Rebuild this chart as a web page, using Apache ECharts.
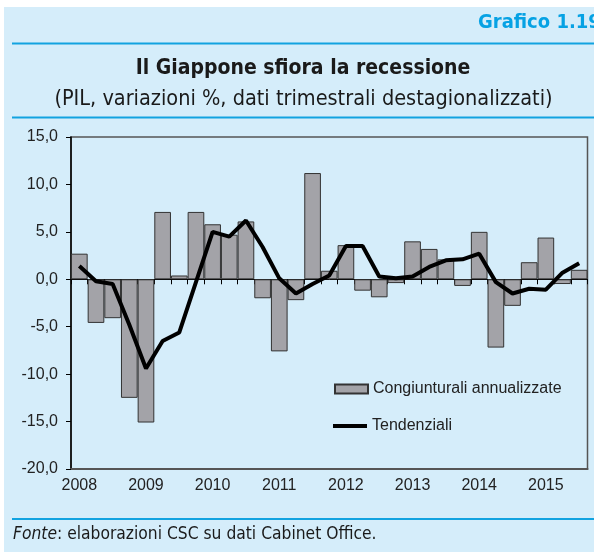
<!DOCTYPE html>
<html>
<head>
<meta charset="utf-8">
<script src="https://cdn.jsdelivr.net/npm/echarts@6/dist/echarts.min.js"></script>
<style>
  html, body { margin: 0; padding: 0; background: #fff; }
  #chart { width: 594px; height: 552px; }
</style>
</head>
<body>
<div id="chart"></div>
<script>
// trimestri 2008 T1 - 2015 T3
var years = ['2008', '2009', '2010', '2011', '2012', '2013', '2014', '2015'];
var quarters = [];
years.forEach(function (y) {
	['T1', 'T2', 'T3', 'T4'].forEach(function (q) { quarters.push(y + ' ' + q); });
});
quarters = quarters.slice(0, 31);

// variazioni congiunturali annualizzate
var congiunturali = [
	2.7, -4.6, -4.1, -12.5,
	-15.1, 7.1, 0.4, 7.1,
	5.8, 4.7, 6.1, -2.0,
	-7.6, -2.2, 11.2, 0.9,
	3.6, -1.2, -1.9, -0.4,
	4.0, 3.2, 2.1, -0.7,
	5.0, -7.2, -2.8, 1.8,
	4.4, -0.5, 1.0
];

// variazioni tendenziali
var tendenziali = [
	1.4, -0.2, -0.5, -4.8,
	-9.4, -6.5, -5.6, -0.3,
	5.0, 4.5, 6.2, 3.4,
	0.1, -1.5, -0.5, 0.4,
	3.5, 3.5, 0.3, 0.1,
	0.3, 1.3, 2.0, 2.1,
	2.7, -0.3, -1.5, -1.0,
	-1.1, 0.7, 1.7
];

var yTicks = [-20, 15, 5];

var narrow = "'Liberation Sans Narrow', 'DejaVu Sans Condensed', sans-serif";
var plain = "'Liberation Sans', Arial, sans-serif";
var blue = '#12A3E0';

var myChart = echarts.init(document.getElementById('chart'));

var option = {
	backgroundColor: '#ffffff',
	animation: false,
	graphic: [
		{ type: 'rect', z: -10, shape: { x: 4, y: 7, width: 590, height: 545 }, style: { fill: '#D5EDFA' } },
		{ type: 'line', shape: { x1: 12, y1: 43.5, x2: 594, y2: 43.5 }, style: { stroke: blue, lineWidth: 2 } },
		{ type: 'line', shape: { x1: 12, y1: 117.5, x2: 594, y2: 117.5 }, style: { stroke: blue, lineWidth: 2 } },
		{ type: 'line', shape: { x1: 12, y1: 519, x2: 594, y2: 519 }, style: { stroke: blue, lineWidth: 2 } },
		{ type: 'text', x: 478, y: 23, style: { text: 'Grafico 1.19', font: 'bold 20px ' + narrow, fill: '#06A2E4', textVerticalAlign: 'middle' } },
		{ type: 'text', x: 303, y: 69, style: { text: 'Il Giappone sfiora la recessione', font: 'bold 21px ' + narrow, fill: '#1a1a1a', textAlign: 'center', textVerticalAlign: 'middle' } },
		{ type: 'text', x: 303.5, y: 99, style: { text: '(PIL, variazioni %, dati trimestrali destagionalizzati)', font: '21.5px ' + narrow, fill: '#1a1a1a', textAlign: 'center', textVerticalAlign: 'middle' } },
		{
			type: 'text', x: 13, y: 535,
			style: {
				text: '{i|Fonte}{n|: elaborazioni CSC su dati Cabinet Office.}',
				textVerticalAlign: 'middle',
				rich: {
					i: { font: 'italic 17.3px ' + narrow, fill: '#1a1a1a' },
					n: { font: '17.3px ' + narrow, fill: '#1a1a1a' }
				}
			}
		}
	],
	grid: {
		left: 71, top: 137, right: 6.5, bottom: 83,
		show: true, borderColor: '#555', borderWidth: 1.5, backgroundColor: 'transparent'
	},
	legend: [
		{
			left: 329, top: 376,
			itemWidth: 33, itemHeight: 9, icon: 'rect',
			textStyle: { fontFamily: plain, fontSize: 16, color: '#222' },
			data: ['Congiunturali annualizzate']
		},
		{
			left: 328, top: 413,
			itemWidth: 34, itemHeight: 4, icon: 'rect',
			textStyle: { fontFamily: plain, fontSize: 16, color: '#222' },
			data: ['Tendenziali']
		}
	],
	xAxis: [
		{
			type: 'category', data: quarters,
			axisLine: { onZero: true, lineStyle: { color: '#000', width: 1 } },
			axisTick: { show: true, interval: 0, length: 5, lineStyle: { color: '#000' } },
			axisLabel: { show: false }
		},
		{
			type: 'category', data: quarters, position: 'bottom',
			axisLine: { onZero: false, lineStyle: { color: '#555', width: 2 } },
			axisTick: { show: false },
			axisLabel: {
				interval: 3, margin: 9, fontFamily: plain, fontSize: 16, color: '#222',
				formatter: function (v) { return v.split(' ')[0]; }
			}
		}
	],
	yAxis: {
		type: 'value', min: yTicks[0], max: yTicks[1], interval: yTicks[2],
		splitLine: { show: false },
		axisLine: { show: true, lineStyle: { color: '#000', width: 1.5 } },
		axisTick: { show: true, length: 5, lineStyle: { color: '#000' } },
		axisLabel: {
			margin: 13, fontFamily: plain, fontSize: 16, color: '#222',
			formatter: function (v) { return v.toFixed(1).replace('.', ','); }
		}
	},
	series: [
		{
			name: 'Congiunturali annualizzate', type: 'bar', xAxisIndex: 0,
			data: congiunturali, barCategoryGap: '0%',
			itemStyle: { color: '#A3A3A8', borderColor: '#333', borderWidth: 1 }
		},
		{
			name: 'Tendenziali', type: 'line', xAxisIndex: 0,
			data: tendenziali, symbol: 'none', z: 5,
			lineStyle: { color: '#000', width: 4 },
			itemStyle: { color: '#000' }
		}
	]
};

myChart.setOption(option);
</script>
</body>
</html>
